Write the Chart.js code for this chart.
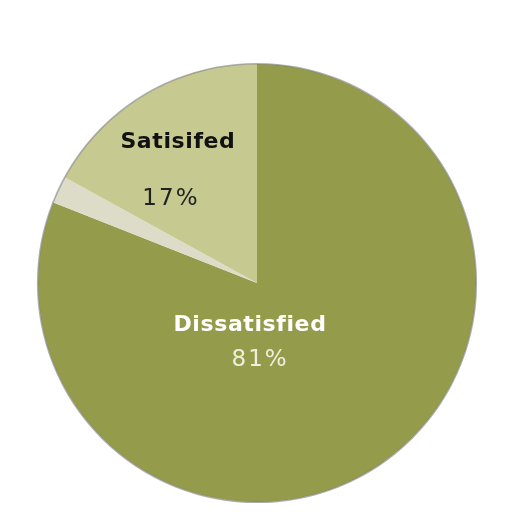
<!DOCTYPE html>
<html>
<head>
<meta charset="utf-8">
<script src="https://cdn.jsdelivr.net/npm/chart.js@4"></script>
<style>
html,body{margin:0;padding:0;background:#fff;}
#wrap{width:512px;height:512px;}
</style>
</head>
<body>
<div id="wrap"><canvas id="c" width="512" height="512"></canvas></div>
<script>
const categories = ["Dissatisfied", "Other", "Satisifed"];
const values = [81, 2, 17];
const sliceColors = ["#949c4b", "#dddcc8", "#c6ca90"];
const labelTexts = ["Dissatisfied", "", "Satisifed"];
const percentTexts = ["81%", "", "17%"];

// label anchors relative to pie center, in units of radius
const nameOffsets = [[-0.032, 0.221], null, [-0.361, -0.616]];
const pctOffsets = [[0.014, 0.381], null, [-0.393, -0.354]];
const nameColors = ["#ffffff", null, "#111111"];
const pctColors = ["#eef0dc", null, "#222222"];

const labelPlugin = {
  id: 'labelPlugin',
  afterDatasetsDraw(chart) {
    const ctx = chart.ctx;
    const meta = chart.getDatasetMeta(0);
    const a0 = meta.data[0];
    const cx = a0.x, cy = a0.y, r = a0.outerRadius;
    // outer rim
    ctx.save();
    ctx.beginPath();
    ctx.arc(cx, cy, r + 0.3, 0, Math.PI * 2);
    ctx.strokeStyle = "rgba(110,110,110,0.55)";
    ctx.lineWidth = 1.6;
    ctx.stroke();
    ctx.restore();

    ctx.save();
    ctx.textAlign = 'center';
    ctx.textBaseline = 'alphabetic';
    meta.data.forEach((arc, i) => {
      if (nameOffsets[i]) {
        ctx.font = "bold 22px 'DejaVu Sans'";
        ctx.letterSpacing = "0.6px";
        ctx.fillStyle = nameColors[i];
        ctx.fillText(labelTexts[i], cx + nameOffsets[i][0] * r, cy + nameOffsets[i][1] * r);
      }
      if (pctOffsets[i]) {
        ctx.font = "23px 'DejaVu Sans'";
        ctx.letterSpacing = "2px";
        ctx.fillStyle = pctColors[i];
        ctx.fillText(percentTexts[i], cx + pctOffsets[i][0] * r, cy + pctOffsets[i][1] * r);
      }
    });
    ctx.restore();
  }
};

new Chart(document.getElementById('c'), {
  type: 'pie',
  data: {
    labels: categories,
    datasets: [{
      data: values,
      backgroundColor: sliceColors,
      borderWidth: 0
    }]
  },
  options: {
    responsive: false,
    animation: false,
    devicePixelRatio: 1,
    layout: { padding: { left: 38, right: 36, top: 64, bottom: 10 } },
    plugins: {
      legend: { display: false },
      tooltip: { enabled: false }
    }
  },
  plugins: [labelPlugin]
});
</script>
</body>
</html>
